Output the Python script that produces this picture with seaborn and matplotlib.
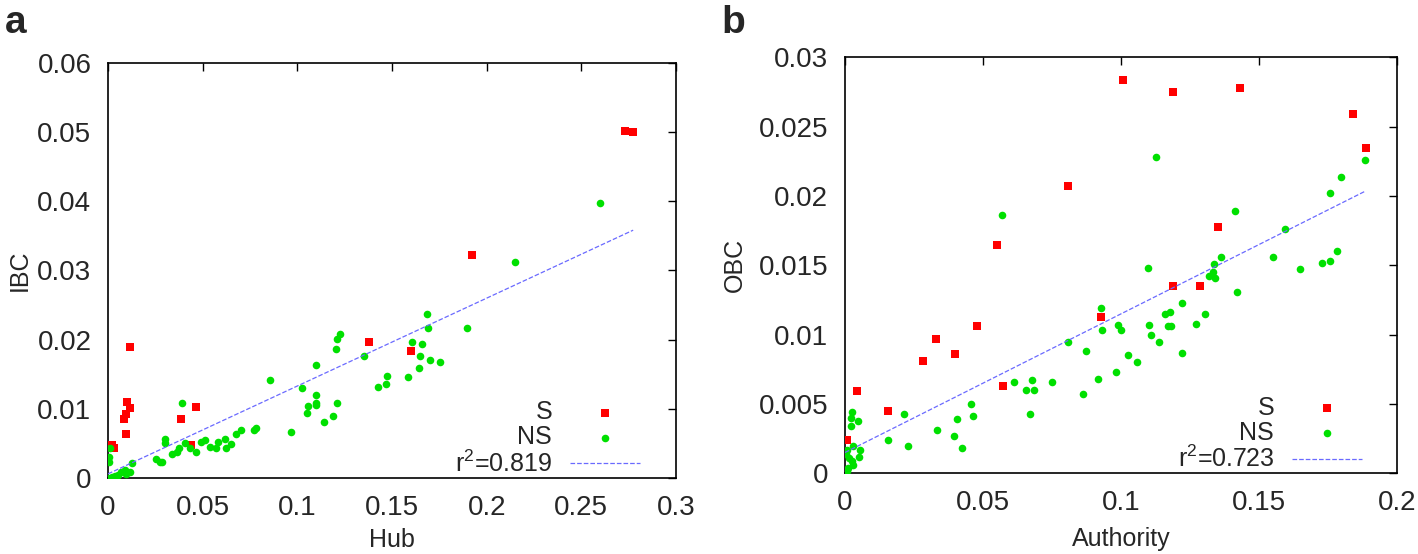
import numpy as np
import pandas as pd
import matplotlib
matplotlib.use("Agg")
import matplotlib.pyplot as plt
from matplotlib.ticker import FuncFormatter
import seaborn as sns

# panel a: Hub vs IBC
hub_s = [0.002, 0.003, 0.0118, 0.010, 0.0114, 0.0097, 0.0084, 0.0097, 0.0384,
         0.0463, 0.0437, 0.138, 0.160, 0.192, 0.273, 0.2774]
ibc_s = [0.0047, 0.0044, 0.019, 0.011, 0.0101, 0.0093, 0.0086, 0.0064, 0.0086,
         0.0102, 0.0048, 0.0197, 0.0184, 0.0323, 0.0502, 0.0500]
hub_ns = [0.0, 0.001, 0.0005, 0.0005, 0.0035, 0.007, 0.0088, 0.0097, 0.0118,
          0.0127, 0.0255, 0.0273, 0.0287, 0.030, 0.030, 0.034, 0.0366, 0.0375,
          0.0405, 0.039, 0.0431, 0.0463, 0.049, 0.0514, 0.054, 0.0572, 0.058,
          0.0616, 0.0622, 0.0648, 0.0678, 0.070, 0.0771, 0.078, 0.0854, 0.0965,
          0.1025, 0.1057, 0.105, 0.1097, 0.110, 0.110, 0.1097, 0.114, 0.1189,
          0.1207, 0.1203, 0.121, 0.1224, 0.135, 0.1427, 0.147, 0.1476, 0.1587,
          0.1641, 0.165, 0.1608, 0.1659, 0.170, 0.1754, 0.1692, 0.1686, 0.1895,
          0.2149, 0.2597, 0.002, 0.005]
ibc_ns = [0.0, 0.0044, 0.003, 0.0023, 0.0003, 0.0008, 0.0011, 0.0006, 0.0009,
          0.0021, 0.0027, 0.0023, 0.0023, 0.0056, 0.005, 0.0034, 0.0037, 0.0044,
          0.005, 0.0109, 0.0043, 0.0037, 0.0052, 0.0055, 0.0045, 0.0044, 0.0052,
          0.0057, 0.0044, 0.0049, 0.0064, 0.0069, 0.007, 0.0072, 0.0141, 0.0066,
          0.013, 0.0104, 0.0094, 0.0163, 0.012, 0.0109, 0.0105, 0.0081, 0.0089,
          0.0108, 0.0187, 0.0201, 0.0208, 0.0177, 0.0132, 0.0136, 0.0148, 0.0146,
          0.0159, 0.0177, 0.0197, 0.0193, 0.0171, 0.0168, 0.0217, 0.0237, 0.0217,
          0.0312, 0.0398, 0.0002, 0.0004]
fit_a = [0.127, 0.0006]   # slope, intercept
r2_a = 0.819

# panel b: Authority vs OBC
auth_s = [0.1008, 0.0809, 0.055, 0.0477, 0.033, 0.0399, 0.0284, 0.0928, 0.0574,
          0.0156, 0.0042, 0.0008, 0.119, 0.1432, 0.184, 0.1887, 0.1353, 0.1187,
          0.1285]
obc_s = [0.0284, 0.0207, 0.0165, 0.0106, 0.0097, 0.0086, 0.0081, 0.0113, 0.0063,
         0.0045, 0.0059, 0.0024, 0.0275, 0.0278, 0.0259, 0.0235, 0.0178, 0.0135,
         0.0135]
auth_ns = [0.0568, 0.0928, 0.0932, 0.099, 0.0999, 0.0809, 0.0872, 0.1024, 0.1057,
           0.0982, 0.0918, 0.0861, 0.0751, 0.0679, 0.0655, 0.0686, 0.0614, 0.067,
           0.0458, 0.0465, 0.0405, 0.0333, 0.0395, 0.0423, 0.0215, 0.0155, 0.0227,
           0.0027, 0.0022, 0.0048, 0.0022, 0.0028, 0.0054, 0.0052, 0.0008, 0.0016,
           0.0024, 0.0028, 0.0012, 0.0, 0.0006, 0.0004,
           0.1128, 0.1413, 0.1594, 0.1758, 0.1797, 0.1885, 0.1363, 0.1337, 0.1318,
           0.1335, 0.1342, 0.1552, 0.165, 0.1728, 0.1757, 0.1784, 0.1099, 0.1419,
           0.122, 0.1161, 0.1178, 0.1304, 0.11, 0.1171, 0.118, 0.1272, 0.1108,
           0.1138, 0.122]
obc_ns = [0.0186, 0.0119, 0.0103, 0.0107, 0.0103, 0.0095, 0.0088, 0.0085, 0.008,
          0.0073, 0.0068, 0.0057, 0.0066, 0.0067, 0.006, 0.006, 0.0066, 0.0043,
          0.005, 0.0041, 0.0039, 0.0031, 0.0027, 0.0018, 0.0043, 0.0024, 0.002,
          0.0044, 0.004, 0.0038, 0.0034, 0.002, 0.0017, 0.0012, 0.0017, 0.0011,
          0.0009, 0.0006, 0.0004, 0.0, 0.0002, 0.0014,
          0.0228, 0.0189, 0.0176, 0.0202, 0.0214, 0.0226, 0.0156, 0.0151, 0.0142,
          0.0145, 0.0141, 0.0156, 0.0147, 0.0152, 0.0153, 0.016, 0.0148, 0.0131,
          0.0123, 0.0115, 0.0116, 0.0115, 0.0107, 0.0106, 0.0106, 0.0108, 0.01,
          0.0095, 0.0087]
fit_b = [0.100, 0.0015]
r2_b = 0.723

RED = "#ff0000"
GREEN = "#00e000"
LINE = "#6a6aff"

sns.set_style("white")
plt.rcParams["font.family"] = ["Liberation Sans", "DejaVu Sans"]
plt.rcParams["mathtext.default"] = "regular"


def draw_panel(ax, xs, ys, xn, yn, fit, r2, xlabel, ylabel, xlim, ylim, step_x, step_y):
    sns.scatterplot(x=xs, y=ys, ax=ax, color=RED, marker="s", s=36,
                    linewidth=0, label="S", zorder=3)
    sns.scatterplot(x=xn, y=yn, ax=ax, color=GREEN, marker="o", s=30,
                    linewidth=0, label="NS", zorder=4)
    x_all = np.concatenate([xs, xn])
    fx = np.array([0.0, x_all.max()])
    sns.lineplot(x=fx, y=fit[0] * fx + fit[1], ax=ax, color=LINE, lw=0.9,
                 dashes=(3, 1.5), linestyle="--", label=f"r$^2$={r2}", zorder=5)

    ax.set_xlim(*xlim)
    ax.set_ylim(*ylim)
    ax.set_xticks(np.arange(xlim[0], xlim[1] + 1e-9, step_x))
    ax.set_yticks(np.arange(ylim[0], ylim[1] + 1e-9, step_y))
    fmt = FuncFormatter(lambda v, p: f"{round(v, 4):g}")
    ax.xaxis.set_major_formatter(fmt)
    ax.yaxis.set_major_formatter(fmt)
    ax.tick_params(direction="in", length=6, width=1, top=True, right=True,
                   labelsize=20, pad=12, color="black")
    for sp in ax.spines.values():
        sp.set_color("black")
        sp.set_linewidth(1.2)
    ax.set_xlabel(xlabel, fontsize=18)
    ax.set_ylabel(ylabel, fontsize=18)

    h, l = ax.get_legend_handles_labels()
    ax.legend(h, l, loc="lower right", bbox_to_anchor=(0.945, -0.01),
              frameon=False, fontsize=18, markerfirst=False, handlelength=2.8,
              handletextpad=0.7, labelspacing=0.05, borderpad=0.2, borderaxespad=0)


fig = plt.figure(figsize=(14.18, 5.54), dpi=100)
ax1 = fig.add_axes([0.0762, 0.1372, 0.4005, 0.7491])
ax2 = fig.add_axes([0.5959, 0.1457, 0.3893, 0.7507])

draw_panel(ax1, hub_s, ibc_s, hub_ns, ibc_ns, fit_a, r2_a, "Hub", "IBC",
           (0, 0.3), (0, 0.06), 0.05, 0.01)
draw_panel(ax2, auth_s, obc_s, auth_ns, obc_ns, fit_b, r2_b, "Authority", "OBC",
           (0, 0.2), (0, 0.03), 0.05, 0.005)

ax1.yaxis.set_label_coords(-0.134, 0.5)
ax2.yaxis.set_label_coords(-0.178, 0.5)
ax1.xaxis.set_label_coords(0.5, -0.12)
ax2.xaxis.set_label_coords(0.5, -0.13)

fig.text(0.0035, 0.94, "a", fontsize=28, fontweight="bold", va="baseline")
fig.text(0.509, 0.94, "b", fontsize=28, fontweight="bold", va="baseline")

fig.savefig("out.png", dpi=100)
